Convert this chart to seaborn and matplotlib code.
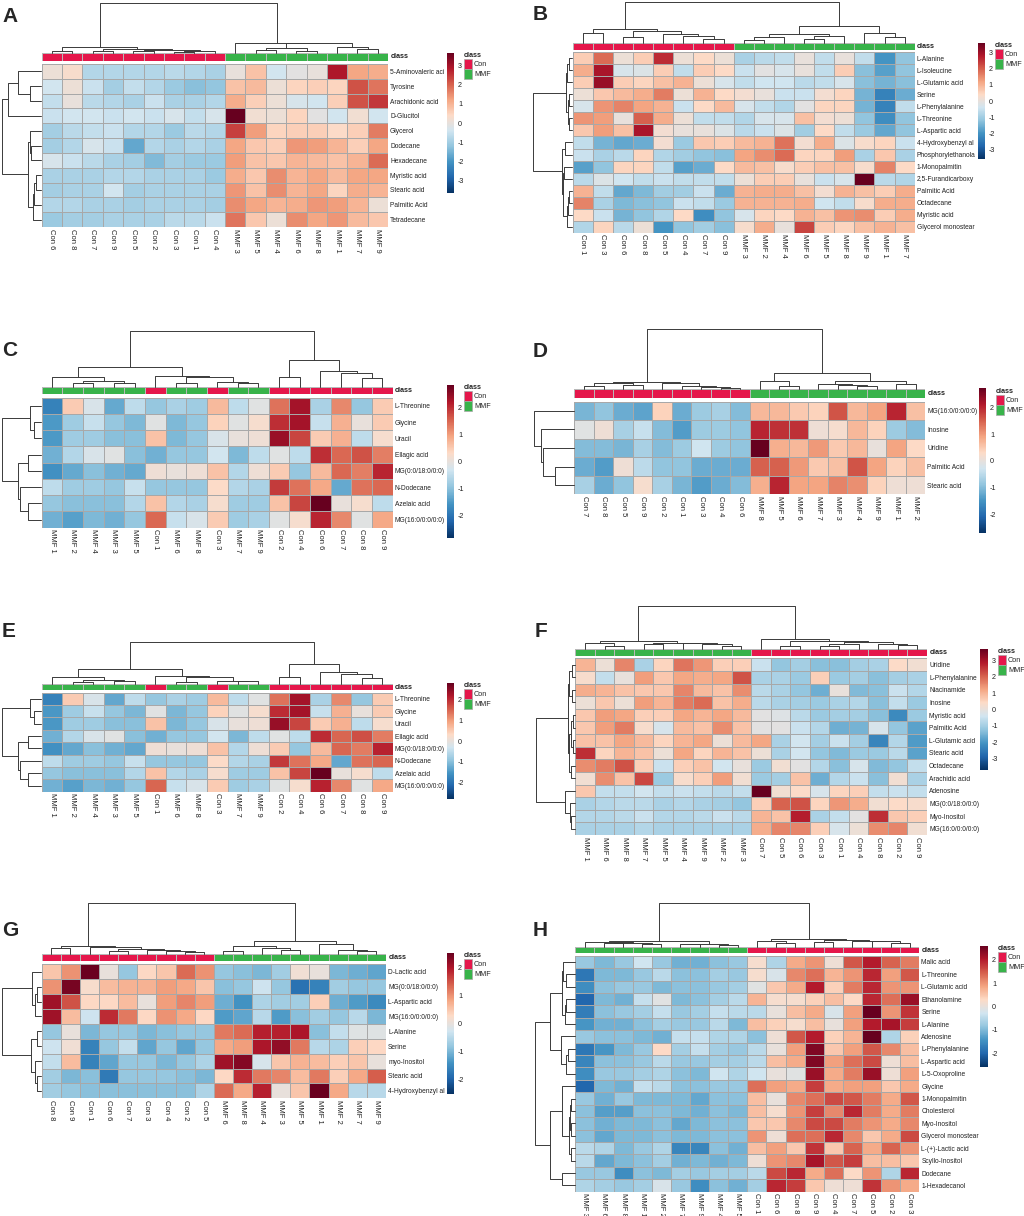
import numpy as np
import pandas as pd
import matplotlib
matplotlib.use('Agg')
import matplotlib.pyplot as plt
import seaborn as sns
from matplotlib.colors import LinearSegmentedColormap, ListedColormap
from matplotlib.patches import Patch

sns.set_style('white')
plt.rcParams['font.family'] = ['Liberation Sans', 'DejaVu Sans']
plt.rcParams['axes.unicode_minus'] = False

# ---------------- data ----------------
A_cols = ['Con 6', 'Con 8', 'Con 7', 'Con 9', 'Con 5', 'Con 2', 'Con 3', 'Con 1', 'Con 4',
          'MMF 3', 'MMF 5', 'MMF 4', 'MMF 6', 'MMF 8', 'MMF 1', 'MMF 7', 'MMF 9']
A_rows = ['5-Aminovaleric aci', 'Tyrosine', 'Arachidonic acid', 'D-Glucitol', 'Glycerol', 'Dodecane',
          'Hexadecane', 'Myristic acid', 'Stearic acid', 'Palmitic Acid', 'Tetradecane']
A_vals = [
    [0.1, 0.3, -0.8, -0.8, -0.8, -0.8, -0.7, -0.8, -0.9, 0.0, 0.8, -0.4, -0.1, 0.0, 2.9, 1.2, 1.1],
    [-0.4, 0.1, -0.5, -1.0, -0.6, -0.8, -1.1, -1.3, -1.2, 0.8, 0.9, 0.1, 0.5, 0.6, 0.5, 2.2, 1.8],
    [-0.6, 0.0, -0.7, -0.8, -0.9, -0.5, -0.9, -0.9, -0.8, 1.1, 0.6, 0.1, -0.3, -0.4, 0.6, 2.2, 2.5],
    [-0.5, -0.4, -0.4, -0.5, -0.4, -0.5, -0.3, -0.6, -0.3, 3.68, 0.2, 0.1, 0.5, -0.1, -0.4, 0.2, -0.4],
    [-1.0, -0.7, -0.6, -0.5, -0.8, -0.8, -1.1, -0.7, -0.8, 2.4, 1.3, 0.5, 0.6, 0.6, 0.4, 0.6, 1.7],
    [-1.0, -0.8, -0.3, -0.5, -1.7, -0.8, -0.9, -0.8, -0.9, 1.2, 0.7, 0.6, 1.4, 1.3, 1.0, 0.6, 1.2],
    [-0.3, -0.5, -0.7, -0.9, -1.0, -1.4, -1.0, -1.1, -1.1, 1.3, 0.8, 0.7, 1.0, 0.9, 0.8, 1.0, 1.9],
    [-0.9, -0.9, -0.9, -0.8, -0.8, -0.9, -0.9, -0.9, -1.1, 1.1, 0.7, 1.5, 1.0, 1.2, 0.9, 1.2, 1.2],
    [-1.0, -0.9, -0.9, -0.4, -1.0, -0.9, -0.9, -0.9, -0.9, 1.4, 0.8, 1.5, 1.0, 1.2, 0.5, 1.1, 1.0],
    [-0.8, -0.8, -0.9, -0.9, -1.0, -0.9, -0.9, -0.9, -1.0, 1.5, 1.2, 1.0, 1.1, 1.4, 1.3, 1.0, 0.1],
    [-1.1, -1.0, -1.0, -0.9, -0.9, -0.9, -0.7, -0.7, -0.5, 1.8, 0.7, 0.1, 1.5, 1.2, 1.4, 0.9, 0.7],
]
# trees: [merge height, left, right]; ints are leaf positions
A_col_tree = [152, [18, [8, 0, 1], [12, [7, 2, 3], [9, [6, 4, 5], [6, [4, 6, 7], 8]]]],
              [32, 9, [30, [15, [10, 10, 11], [8, 12, 13]], [20, 14, [12, 15, 16]]]]]
A_row_tree = [120, [100, [70, 0, [35, 1, 2]], 3],
              [40, [35, 4, [30, 5, 6]], [25, [20, [15, 7, 8], 9], 10]]]
A_vmax = 3.68
A_ticks = [-3, -2, -1, 0, 1, 2, 3]

B_cols = ['Con 1', 'Con 3', 'Con 6', 'Con 8', 'Con 5', 'Con 4', 'Con 7', 'Con 9',
          'MMF 3', 'MMF 2', 'MMF 4', 'MMF 6', 'MMF 5', 'MMF 8', 'MMF 9', 'MMF 1', 'MMF 7']
B_rows = ['L-Alanine', 'L-Isoleucine', 'L-Glutamic acid', 'Serine', 'L-Phenylalanine', 'L-Threonine',
          'L-Aspartic acid', '4-Hydroxybenzyl al', 'Phosphorylethanola', '1-Monopalmitin',
          '2,5-Furandicarboxy', 'Palmitic Acid', 'Octadecane', 'Myristic acid', 'Glycerol monostear']
B_vals = [
    [0.6, 1.9, 0.1, 0.6, 2.6, 0.1, 0.4, 0.1, -0.9, -0.7, -0.6, 0.0, -0.6, 0.0, -0.6, -2.0, -1.2],
    [1.1, 2.9, -0.3, -0.2, 0.6, -0.6, 0.6, 0.4, -0.5, -0.1, -0.3, 0.0, -0.6, 0.6, -1.3, -1.8, -1.2],
    [0.6, 3.1, 0.6, 0.5, 0.8, 1.0, 0.1, -0.3, -0.6, -0.4, -0.4, -0.7, -0.6, -0.3, -1.3, -1.5, -1.3],
    [0.1, 0.7, 0.9, 1.1, 1.7, 0.1, 1.0, 0.4, 0.2, 0.0, -0.5, -0.5, 0.2, 0.5, -1.5, -2.3, -1.6],
    [-0.3, 1.4, 1.6, 1.2, 1.0, -0.5, 0.4, 0.9, -0.3, -0.6, -0.8, -0.1, 0.5, 0.5, -1.5, -2.3, -0.6],
    [1.4, 1.3, 0.0, 2.0, 1.1, 0.1, -0.6, -0.6, -0.8, -0.3, -0.3, 0.8, 0.2, 0.1, -1.2, -2.1, -1.2],
    [0.7, 1.3, 0.8, 2.9, 0.2, 0.0, 0.0, -0.2, -0.7, -0.5, -0.2, -1.0, 0.4, -0.6, -1.1, -1.7, -1.2],
    [-0.6, -1.5, -1.7, -1.6, 0.2, -1.1, 0.7, 0.6, 0.9, 1.0, 1.8, 0.2, 1.1, -0.2, 0.3, 0.5, -0.5],
    [-0.5, -0.9, -0.7, 0.5, -0.8, -1.0, -1.2, -1.3, 1.2, 1.5, 1.9, 0.5, 0.5, 1.3, -0.9, 0.7, -0.9],
    [-1.8, -1.2, 0.5, 0.5, -0.6, -1.8, -1.6, 0.4, 0.9, 0.8, 0.3, 0.6, 0.8, 0.8, 0.3, 1.6, 0.4],
    [-0.7, -0.2, -0.4, -0.6, -0.5, -0.6, -0.6, -0.6, 0.1, 0.6, 0.6, 0.0, -0.5, -0.3, 3.63, -0.7, -0.8],
    [1.0, -0.6, -1.7, -1.4, -1.0, -1.0, -0.5, -1.6, 1.0, 1.1, 1.1, 0.8, 0.2, 1.0, 0.8, 0.6, 1.1],
    [1.6, -0.9, -1.4, -1.3, -1.2, -0.5, -0.6, -1.1, 1.0, 1.0, 1.0, 1.1, -0.4, -0.6, 0.3, 1.1, 1.1],
    [0.4, -0.5, -1.5, -1.2, -0.8, 0.4, -2.1, -1.2, -0.3, 0.5, 0.4, 1.0, 0.8, 1.4, 1.5, 0.6, 1.1],
    [-0.8, 0.5, -0.7, 0.1, -2.0, -1.2, -1.0, -1.3, 0.3, 1.1, 0.0, 2.3, 0.6, 0.5, 0.8, 1.0, 0.8],
]
B_col_tree = [125, [42, [30, 0, 1], [37, [20, 2, 3], [27, 4, [22, 5, [12, 6, 7]]]]],
              [52, [27, [18, [10, 8, 9], 10], [22, [14, 11, 12], 13]], [32, 14, [20, 15, 16]]]]
B_row_tree = [120, [17, [14, [10, 0, 1], 2], [13, [8, 3, 4], [10, 5, 6]]],
              [32, [20, 7, 8], [28, [24, 9, 10], [16, [12, [8, 11, 12], 13], 14]]]]
B_vmax = 3.63
B_ticks = [-3, -2, -1, 0, 1, 2, 3]

C_cols = ['MMF 1', 'MMF 2', 'MMF 4', 'MMF 3', 'MMF 5', 'Con 1', 'MMF 6', 'MMF 8', 'Con 3',
          'MMF 7', 'MMF 9', 'Con 2', 'Con 4', 'Con 6', 'Con 7', 'Con 8', 'Con 9']
C_rows = ['L-Threonine', 'Glycine', 'Uracil', 'Ellagic acid', 'MG(0:0/18:0/0:0)', 'N-Dodecane',
          'Azelaic acid', 'MG(16:0/0:0/0:0)']
C_vals = [
    [-1.8, 0.5, -0.2, -1.3, -0.5, -0.9, -0.7, -0.8, 0.7, -0.5, -0.1, 1.4, 2.3, -0.7, 1.2, -0.9, 0.5],
    [-1.5, -0.8, -0.4, -0.9, -1.1, -0.1, -1.1, -0.9, 0.4, -0.1, 0.2, 2.0, 2.3, -0.4, 0.8, 0.0, 0.5],
    [-1.5, -0.8, -0.8, -1.0, -1.0, 0.6, -1.1, -0.9, -0.2, 0.0, 0.1, 2.4, 1.8, 0.5, 0.8, -0.5, 0.2],
    [-1.2, -0.6, -0.2, -0.1, -1.0, -1.2, -0.9, -0.9, -0.3, -1.1, -0.5, -0.1, -0.5, 2.0, 1.5, 1.7, 1.3],
    [-1.6, -1.3, -1.0, -1.2, -1.3, 0.1, 0.0, 0.1, 0.6, -0.6, 0.1, 0.5, -0.9, 0.7, 1.5, 1.3, 2.1],
    [-0.5, -0.8, -0.8, -0.9, -0.4, -0.9, -0.9, -0.9, 0.3, -0.6, -0.7, 1.9, 1.4, 0.9, -1.3, 1.4, 1.5],
    [-0.9, -1.0, -1.0, -1.0, -0.6, 0.6, -0.6, -0.7, 0.2, -0.8, -0.8, 0.6, 1.8, 2.83, 0.0, 0.2, -0.5],
    [-1.2, -1.4, -1.1, -1.2, -0.9, 1.5, -0.4, -0.2, 0.5, -0.8, -0.7, -0.1, 0.2, 2.1, 1.2, -0.1, 0.9],
]
C_col_tree = [167, [60, [30, 0, [18, [10, 1, 2], [12, 3, 4]]], [33, 5, [30, [10, 6, 7], [14, 8, [12, 9, 10]]]]],
              [80, [28, 11, 12], [47, 13, [40, 14, [25, 15, 16]]]]]
C_row_tree = [120, [35, 0, [20, 1, 2]], [70, [40, 3, 4], [65, 5, [40, 6, 7]]]]
C_vmax = 2.83
C_ticks = [-2, -1, 0, 1, 2]

D_cols = ['Con 7', 'Con 8', 'Con 5', 'Con 9', 'Con 2', 'Con 1', 'Con 3', 'Con 4', 'Con 6',
          'MMF 8', 'MMF 5', 'MMF 6', 'MMF 7', 'MMF 3', 'MMF 4', 'MMF 9', 'MMF 1', 'MMF 2']
D_rows = ['MG(16:0/0:0/0:0)', 'Inosine', 'Uridine', 'Palmitic Acid', 'Stearic acid']
D_vals = [
    [-1.1, -0.9, -1.2, -1.3, 0.4, -1.2, -0.8, -0.7, -1.0, 0.7, 0.7, 0.5, 0.4, 1.6, 0.7, 0.9, 2.0, 0.6],
    [-0.1, 0.1, -0.7, -0.4, -1.0, -1.4, -0.8, -0.8, -0.9, 2.0, 1.9, 1.9, 0.1, 0.2, 0.7, 0.4, -0.8, -1.0],
    [-1.0, -1.0, -1.1, -0.7, -1.0, -0.8, -0.3, -0.8, -0.9, 2.72, 0.8, 0.7, 1.0, 0.5, 0.7, 0.0, 0.9, 0.3],
    [-1.2, -1.4, 0.1, -0.5, -0.9, -0.9, -1.2, -1.2, -1.2, 1.5, 1.5, 1.0, 0.5, 0.6, 1.6, 0.9, 0.4, 0.6],
    [-0.7, -1.2, -0.9, 0.2, -0.7, -1.1, -1.4, -1.2, -1.0, 0.8, 2.0, 0.9, 0.9, 1.2, 1.1, 0.4, 0.1, 0.1],
]
D_col_tree = [180, [21, [18, [10, 0, 1], [13, 2, 3]], [18, 4, [11, 5, [7, 6, [5, 7, 8]]]]],
              [48, [25, 9, [11, 10, 11]], [25, [16, 12, [14, 13, [11, 14, 15]]], [15, 16, 17]]]]
D_row_tree = [120, 0, [100, 1, [92, 2, [57, 3, 4]]]]
D_vmax = 2.72
D_ticks = [-2, -1, 0, 1, 2]

# panel E repeats the metabolites of panel C
E_cols = C_cols
E_rows = C_rows
E_vals = C_vals
E_col_tree = C_col_tree
E_row_tree = C_row_tree
E_vmax = 2.81
E_ticks = [-2, -1, 0, 1, 2]

F_cols = ['MMF 1', 'MMF 6', 'MMF 8', 'MMF 7', 'MMF 5', 'MMF 4', 'MMF 9', 'MMF 2', 'MMF 3',
          'Con 7', 'Con 5', 'Con 6', 'Con 3', 'Con 1', 'Con 4', 'Con 8', 'Con 2', 'Con 9']
F_rows = ['Uridine', 'L-Phenylalanine', 'Niacinamide', 'Inosine', 'Myristic acid', 'Palmitic Acid',
          'L-Glutamic acid', 'Stearic acid', 'Octadecane', 'Arachidic acid', 'Adenosine',
          'MG(0:0/18:0/0:0)', 'Myo-Inositol', 'MG(16:0/0:0/0:0)']
F_vals = [
    [1.0, 0.1, 1.6, -0.9, 0.5, 1.8, 1.4, 0.6, 0.6, -0.5, -1.2, -1.0, -1.3, -1.3, -1.0, -0.9, 0.4, 0.2],
    [0.3, -0.6, 0.0, 1.3, 0.7, 1.2, 1.1, 1.2, 2.2, -0.9, -0.9, -1.1, 0.6, -1.1, -1.0, -1.3, -1.0, -0.9],
    [1.1, 1.0, 0.8, 0.7, 0.7, 1.6, 0.9, 0.8, 1.5, -0.7, -0.9, -1.2, -1.6, 0.0, -1.4, -1.3, -0.5, -0.8],
    [0.1, 0.7, 0.1, 1.3, 1.0, 1.7, 1.9, 0.8, 1.1, -0.7, -0.9, -1.0, -1.1, -0.9, -0.8, -1.3, -0.6, -1.1],
    [0.7, 1.3, 1.2, 0.6, 0.6, 1.2, 1.0, 1.2, 0.9, -0.1, -0.2, -0.7, -1.1, -1.0, -1.0, -1.3, -2.2, -1.1],
    [0.7, 1.3, 1.7, 0.3, -0.3, 0.9, 0.8, 1.5, 0.8, -0.1, -0.1, -0.5, -0.8, -1.6, -1.5, -0.3, -1.2, -1.8],
    [0.8, 0.8, 1.2, 0.9, 0.5, 1.0, 1.2, 0.1, 0.9, 1.2, -0.9, -0.4, -1.0, -0.5, -1.0, -2.3, -0.8, -1.9],
    [2.6, 0.5, 1.0, 0.8, 0.1, 1.2, 0.5, 1.0, 0.8, 0.1, -0.9, -0.4, -1.2, -1.4, -1.1, -1.1, -0.7, -1.8],
    [1.5, 1.7, 2.2, 0.6, -0.5, 0.6, 0.8, -0.4, 0.0, -1.1, 0.2, -0.1, -0.8, -1.3, -0.3, -1.4, -1.2, -0.6],
    [0.2, 1.5, 0.8, 2.3, -1.1, 0.3, 0.6, 1.3, 0.2, -1.1, -1.0, 0.8, -1.6, -0.8, -0.5, -1.3, 0.2, -0.9],
    [0.7, -0.6, -0.6, -0.4, -0.6, -0.5, -0.6, -0.7, -0.6, 3.68, 0.2, 0.4, -0.3, 0.5, 0.6, -0.6, -0.5, -0.6],
    [-0.9, -0.8, -0.7, -0.7, -0.9, -0.8, -0.9, -1.0, -1.2, 0.6, 2.0, 2.2, 0.5, 1.4, 1.1, 0.2, 0.4, 0.3],
    [-0.8, -0.8, -0.7, -0.5, -0.8, -0.8, -0.7, -0.5, -0.7, 1.0, 0.8, 2.8, -0.9, -0.6, -0.1, 2.6, 0.7, 0.6],
    [-0.9, -0.9, -0.9, -0.8, -0.9, -0.9, -0.9, -0.9, -0.9, 1.1, 1.6, 1.6, 0.6, -0.3, 0.1, 1.5, 1.6, 0.2],
]
F_col_tree = [131, [25, [18, 0, [11, 1, 2]], [20, [15, 3, 4], [18, 5, [15, 6, [11, 7, 8]]]]],
              [30, 9, [26, [10, 10, 11], [22, [15, [10, 12, 13], 14], [17, 15, [12, 16, 17]]]]]]
F_row_tree = [118, [20, [16, [8, 0, 1], [8, 2, 3]], [16, [12, [6, 4, 5], [6, 6, 7]], [10, 8, 9]]],
              [28, 10, [15, 11, [10, 12, 13]]]]
F_vmax = 3.68
F_ticks = [-3, -2, -1, 0, 1, 2, 3]

G_cols = ['Con 8', 'Con 9', 'Con 1', 'Con 6', 'Con 7', 'Con 3', 'Con 4', 'Con 2', 'Con 5',
          'MMF 6', 'MMF 8', 'MMF 4', 'MMF 3', 'MMF 5', 'MMF 1', 'MMF 2', 'MMF 7', 'MMF 9']
G_rows = ['D-Lactic acid', 'MG(0:0/18:0/0:0)', 'L-Aspartic acid', 'MG(16:0/0:0/0:0)', 'L-Alanine',
          'Serine', 'myo-Inositol', 'Stearic acid', '4-Hydroxybenzyl al']
G_vals = [
    [0.5, 1.0, 2.5, 0.0, -0.8, 0.3, 0.5, 1.3, 1.0, -0.8, -0.9, -1.0, -0.7, 0.1, 0.0, -1.0, -1.1, -1.2],
    [1.0, 2.4, 0.2, 0.6, 0.7, 0.7, 0.9, 0.8, 0.5, -0.9, -0.8, -0.3, -0.8, -1.8, -1.6, -0.7, -0.8, -0.8],
    [2.1, 1.5, 0.3, 0.3, 0.6, 0.0, 0.9, 1.1, 0.9, -1.1, -1.4, -0.6, -0.7, -0.7, 0.4, -1.1, -1.3, -1.5],
    [2.1, 0.6, -0.3, 1.8, 1.2, 0.3, 1.0, 0.8, 0.3, -1.3, -1.2, -0.5, -1.3, -0.9, -0.7, -0.8, -0.5, -1.0],
    [-0.8, 0.0, -1.0, -0.8, -0.8, -1.0, -0.9, -0.8, -0.8, 1.2, 1.3, 1.9, 1.9, 2.0, -0.9, -0.4, -0.1, -0.1],
    [-0.3, 0.1, -1.6, -0.8, -0.4, -1.2, -0.8, -1.2, -0.8, 0.8, 0.9, 2.0, 2.2, 1.2, -0.5, -0.6, 0.4, 0.3],
    [-0.4, 0.6, -1.6, -1.2, -0.8, -0.8, -1.0, -0.8, -0.6, 2.1, 2.3, -0.2, 0.5, 0.7, 0.6, 0.4, 0.5, 0.0],
    [-0.7, -1.0, -0.9, -1.7, -0.8, -0.8, -0.8, -0.9, -1.0, 0.3, 1.8, 1.2, 1.1, 0.6, 1.2, 0.4, 0.8, 1.4],
    [-0.7, -0.8, -0.9, -0.9, -0.9, -0.9, -0.9, -0.9, -0.6, 1.3, 0.8, 1.9, 0.0, 0.5, 2.5, 0.8, -0.5, -0.5],
]
G_col_tree = [152, [25, [17, 0, 1], [22, 2, [14, [10, 3, 4], [12, 5, [9, 6, [7, 7, 8]]]]]],
              [40, [24, [10, 9, 10], [17, 11, [12, 12, 13]]], [29, 14, [12, 15, [9, 16, 17]]]]]
G_row_tree = [120, [27, 0, [17, [12, 1, 2], 3]], [30, [12, 4, 5], [18, 6, [12, 7, 8]]]]
G_vmax = 2.52
G_ticks = [-2, -1, 0, 1, 2]

H_cols = ['MMF 3', 'MMF 6', 'MMF 8', 'MMF 1', 'MMF 2', 'MMF 7', 'MMF 9', 'MMF 4', 'MMF 5',
          'Con 1', 'Con 6', 'Con 8', 'Con 9', 'Con 4', 'Con 7', 'Con 5', 'Con 2', 'Con 3']
H_rows = ['Malic acid', 'L-Threonine', 'L-Glutamic acid', 'Ethanolamine', 'Serine', 'L-Alanine',
          'Adenosine', 'L-Phenylalanine', 'L-Aspartic acid', 'L-5-Oxoproline', 'Glycine',
          '1-Monopalmitin', 'Cholesterol', 'Myo-Inositol', 'Glycerol monostear', 'L-(+)-Lactic acid',
          'Scyllo-Inositol', 'Dodecane', '1-Hexadecanol']
H_vals = [
    [-0.8, -1.0, -0.8, -0.3, -0.8, -1.1, -1.1, -0.9, -0.8, 0.2, -0.6, 0.8, 1.0, 0.1, 1.5, 2.0, 1.4, 1.2],
    [-1.8, -1.0, -1.0, -0.8, -0.5, -0.9, -0.9, -0.7, -0.8, 0.2, -0.2, 1.1, 1.3, 0.7, 1.0, 1.9, 0.9, 1.5],
    [-1.5, -0.9, -0.8, -0.8, -1.0, -0.9, -0.9, -0.8, -0.7, -0.1, 0.5, 0.8, 2.0, 0.4, 1.2, 1.9, 1.0, 1.0],
    [-2.0, -1.0, -1.1, -0.4, -0.1, -1.0, -0.9, -0.7, -0.5, 0.7, 0.2, 0.2, 0.4, 0.6, 0.3, 1.9, 1.3, 2.2],
    [-1.7, -0.9, -0.8, -0.7, -0.4, -0.8, -0.7, -0.4, -0.5, -0.5, 0.0, 0.6, 0.8, -0.2, 0.9, 2.59, 1.0, 1.8],
    [-1.4, -1.1, -1.1, -0.9, -0.7, -0.8, -0.8, -0.5, -1.0, 0.6, 0.4, 0.2, 0.6, 0.0, 0.9, 2.0, 2.1, 1.7],
    [-0.8, -0.9, -0.9, -1.0, -1.1, -0.4, -0.4, -0.6, -0.6, -0.9, 0.1, 1.5, 2.0, 0.4, 0.7, 2.59, -0.6, 0.4],
    [-1.8, -1.4, -1.0, -0.8, 0.3, -0.7, -0.4, -0.7, -0.8, -0.5, 0.0, 0.9, 2.4, 0.5, 0.9, 1.5, 1.1, 0.6],
    [-1.6, -0.9, -0.9, -0.8, -0.5, -0.8, -0.8, -0.7, -0.7, -0.5, 0.6, 0.8, 2.4, 0.9, 1.3, 1.6, 0.1, 0.6],
    [-1.5, -0.8, -0.8, -0.7, -0.6, -0.9, -1.0, -0.3, -0.6, -0.3, 0.0, -0.1, 2.2, 0.8, 1.2, 2.2, 0.1, 0.9],
    [-2.0, -1.0, -1.1, -0.4, -0.5, -0.9, -0.9, -0.8, -0.8, 1.3, 0.9, 0.8, 1.7, 0.8, 0.9, 0.9, 0.5, 0.8],
    [-0.8, -1.1, -0.8, -1.0, -1.0, -1.0, -1.2, -0.9, -0.9, 0.6, 0.0, 1.1, 1.3, 1.6, 1.5, 1.2, 0.8, 1.5],
    [-0.9, -1.3, -1.3, -0.9, -0.9, -1.0, -1.1, -0.9, -1.0, 0.6, 0.2, 1.0, 1.7, 1.1, 1.9, 1.2, 0.8, 1.2],
    [-0.9, -1.1, -1.0, -1.0, -0.9, -1.2, -1.0, -0.9, -0.9, 0.5, 0.5, 1.1, 1.6, 1.6, 1.2, 1.0, 0.8, 1.1],
    [-0.9, -1.2, -1.0, -1.0, -0.9, -1.0, -1.0, -0.9, -0.9, 1.0, 0.1, 1.3, 1.3, 1.9, 1.1, 0.5, 0.8, 1.6],
    [-0.5, -0.6, -1.0, -0.8, -0.6, -1.6, -1.6, -0.9, -1.1, 0.6, 0.9, 0.5, 1.8, 0.5, 1.4, 0.8, 1.4, 1.0],
    [-0.5, -1.2, -1.0, -0.9, -0.7, -1.1, -1.0, -1.1, -1.0, 0.1, 1.0, 1.1, 2.1, 1.5, 1.7, 0.6, 0.6, 0.5],
    [-0.8, -0.8, -1.5, -0.9, -1.0, -0.7, -0.8, -0.7, -0.7, -0.5, 1.6, 1.9, 0.8, 1.3, 0.3, 1.0, -0.6, 1.9],
    [-0.6, -0.7, -0.8, -0.7, -0.2, -0.8, -1.5, -0.9, -1.1, -0.7, 1.9, 1.7, 0.5, 0.1, 0.1, 1.8, 1.0, 0.8],
]
H_col_tree = [130, [17, [15, 0, [12, [11, 1, 2], [9, 3, 4]]], [9, [7, 5, 6], [5, 7, 8]]],
              [24, [17, 9, [12, 10, 11]], [20, [14, 12, 13], [18, 14, [16, 15, [12, 16, 17]]]]]]
H_row_tree = [120, [75, [40, [35, 0, [25, 1, 2]], [30, [26, 3, 4], 5]], [42, 6, [25, [20, 7, 8], 9]]],
              [75, [40, 10, [18, [14, [10, 11, 12], [12, 13, 14]], [12, 15, 16]]], [40, 17, 18]]]
H_vmax = 2.59
H_ticks = [-2, -1, 0, 1, 2]

CLASS_COLORS = {'Con': '#E5174B', 'MMF': '#38B34A'}

# ---------------- layout (pixels) ----------------
W, H = 1024, 1216
LAYOUT = {
    'A': dict(hm=(41.7, 64, 388, 227), cls=(41.7, 53.3, 388, 60.7), top=(41.7, 2.7, 388, 53.3),
              left=(1.7, 64, 41, 227), cbar=(446.7, 52.7, 454, 193.3), leg=(464, 52), letter=(2, 7)),
    'B': dict(hm=(572.7, 52.3, 914.7, 232.7), cls=(572.7, 43.3, 914.7, 50), top=(572.7, 1.7, 914.7, 43.3),
              left=(532.7, 52.3, 572, 232.7), cbar=(977.7, 42.7, 984.7, 159.3), leg=(995, 42), letter=(533, 5)),
    'C': dict(hm=(41.7, 397.7, 392.7, 527.7), cls=(41.7, 386.7, 392.7, 394.3), top=(41.7, 331, 392.7, 386.7),
              left=(1.7, 397.7, 41, 527.7), cbar=(446.7, 385, 454, 538.3), leg=(464, 384), letter=(2, 341)),
    'D': dict(hm=(574.3, 401.7, 925.3, 494.3), cls=(574.3, 389.3, 925.3, 398.3), top=(574.3, 329.3, 925.3, 389.3),
              left=(534.3, 401.7, 573.6, 494.3), cbar=(978.7, 388.3, 986, 533.3), leg=(996, 388), letter=(533, 342)),
    'E': dict(hm=(41.7, 692.7, 392.7, 791.7), cls=(41.7, 684.3, 392.7, 690), top=(41.7, 642.3, 392.7, 684.3),
              left=(1.7, 692.7, 41, 791.7), cbar=(446.7, 683.3, 454, 799), leg=(464, 682), letter=(2, 622)),
    'F': dict(hm=(575.3, 658.3, 927, 835), cls=(575.3, 649.3, 927, 656), top=(575.3, 605.7, 927, 649.3),
              left=(536, 658.3, 574.6, 835), cbar=(980.3, 649, 987.7, 770), leg=(998, 648), letter=(535, 622)),
    'G': dict(hm=(41.7, 964.3, 386, 1098.3), cls=(41.7, 954, 386, 961), top=(41.7, 903.3, 386, 954),
              left=(1.7, 964.3, 41, 1098.3), cbar=(446.7, 952.7, 454, 1094.3), leg=(464, 952), letter=(2, 921)),
    'H': dict(hm=(575.3, 955.7, 919.3, 1191.7), cls=(575.3, 946.7, 919.3, 953.3), top=(575.3, 903.3, 919.3, 946.7),
              left=(535.3, 955.7, 574.6, 1191.7), cbar=(980.3, 945.7, 988, 1067.3), leg=(998, 945), letter=(533, 921)),
}

cmap = LinearSegmentedColormap.from_list(
    'rdbu10', ['#053061', '#2166AC', '#4393C3', '#92C5DE', '#D1E5F0',
               '#FDDBC7', '#F4A582', '#D6604D', '#B2182B', '#67001F'], N=256)

fig = plt.figure(figsize=(W / 100, H / 100), dpi=100)


def frac(x0, y0, x1, y1):
    return [x0 / W, 1 - y1 / H, (x1 - x0) / W, (y1 - y0) / H]


def walk(node, segs):
    if isinstance(node, int):
        return node + 0.5, 0.0
    h, a, b = node
    xa, ha = walk(a, segs)
    xb, hb = walk(b, segs)
    segs.append(([xa, xa, xb, xb], [ha, h, h, hb]))
    return (xa + xb) / 2, h


def draw_panel(letter, rows, cols, vals, col_tree, row_tree, vmax, ticks):
    lay = LAYOUT[letter]
    df = pd.DataFrame(vals, index=rows, columns=cols)

    ax = fig.add_axes(frac(*lay['hm']))
    cax = fig.add_axes(frac(*lay['cbar']))
    sns.heatmap(df, ax=ax, cmap=cmap, vmin=-vmax, vmax=vmax, linewidths=0.5, linecolor='#a8a8a8',
                cbar_ax=cax, cbar_kws={'ticks': ticks}, xticklabels=True, yticklabels=True)
    ax.yaxis.tick_right()
    ax.tick_params(axis='y', length=0, pad=1.5)
    ax.tick_params(axis='x', length=0, pad=1.2)
    ax.set_yticklabels(rows, rotation=0, fontsize=4.8, color='#222222')
    ax.set_xticklabels(cols, rotation=270, fontsize=5.5, va='top', ha='center', color='#222222')
    ax.set_xlabel('')
    ax.set_ylabel('')
    cb = ax.collections[0].colorbar
    cb.outline.set_visible(False)
    cax.tick_params(length=0, labelsize=5.2, pad=3, colors='#222222')

    # class annotation bar
    codes = [[list(CLASS_COLORS).index(c.split()[0]) for c in cols]]
    bax = fig.add_axes(frac(*lay['cls']))
    sns.heatmap(codes, ax=bax, cmap=ListedColormap(list(CLASS_COLORS.values())), vmin=0, vmax=1,
                cbar=False, linewidths=0.5, linecolor='#b8b8b8', xticklabels=False, yticklabels=False)
    x0, y0, x1, y1 = lay['cls']
    fig.text((lay['hm'][2] + 2.5) / W, 1 - (y0 + y1) / 2 / H, 'class', fontsize=5.2, fontweight='bold',
             va='center', ha='left', color='#222222')

    # column dendrogram
    tax = fig.add_axes(frac(*lay['top']))
    segs = []
    walk(col_tree, segs)
    for xs, ys in segs:
        tax.plot(xs, ys, color='#3a3a3a', lw=0.7, clip_on=False)
    tax.set_xlim(0, len(cols))
    tax.set_ylim(0, col_tree[0])
    tax.axis('off')

    # row dendrogram
    lax = fig.add_axes(frac(*lay['left']))
    segs = []
    walk(row_tree, segs)
    for xs, ys in segs:
        lax.plot(ys, xs, color='#3a3a3a', lw=0.7, clip_on=False)
    lax.set_ylim(len(rows), 0)
    lax.set_xlim(row_tree[0], 0)
    lax.axis('off')

    # legend
    lx, ly = lay['leg']
    handles = [Patch(facecolor=col, edgecolor='#a8a8a8', linewidth=0.5, label=name)
               for name, col in CLASS_COLORS.items()]
    fig.legend(handles=handles, loc='upper left', bbox_to_anchor=(lx / W, 1 - ly / H),
               frameon=False, title='class', fontsize=5.2, handlelength=1.05, handleheight=1.75,
               handletextpad=0.35, labelspacing=0.0, borderpad=0, borderaxespad=0,
               alignment='left', title_fontproperties={'weight': 'bold', 'size': 5.2})

    fig.text(lay['letter'][0] / W, 1 - lay['letter'][1] / H, letter, fontsize=15,
             fontweight='bold', va='top', ha='left')


draw_panel('A', A_rows, A_cols, A_vals, A_col_tree, A_row_tree, A_vmax, A_ticks)
draw_panel('B', B_rows, B_cols, B_vals, B_col_tree, B_row_tree, B_vmax, B_ticks)
draw_panel('C', C_rows, C_cols, C_vals, C_col_tree, C_row_tree, C_vmax, C_ticks)
draw_panel('D', D_rows, D_cols, D_vals, D_col_tree, D_row_tree, D_vmax, D_ticks)
draw_panel('E', E_rows, E_cols, E_vals, E_col_tree, E_row_tree, E_vmax, E_ticks)
draw_panel('F', F_rows, F_cols, F_vals, F_col_tree, F_row_tree, F_vmax, F_ticks)
draw_panel('G', G_rows, G_cols, G_vals, G_col_tree, G_row_tree, G_vmax, G_ticks)
draw_panel('H', H_rows, H_cols, H_vals, H_col_tree, H_row_tree, H_vmax, H_ticks)

fig.savefig('out.png', dpi=100)
